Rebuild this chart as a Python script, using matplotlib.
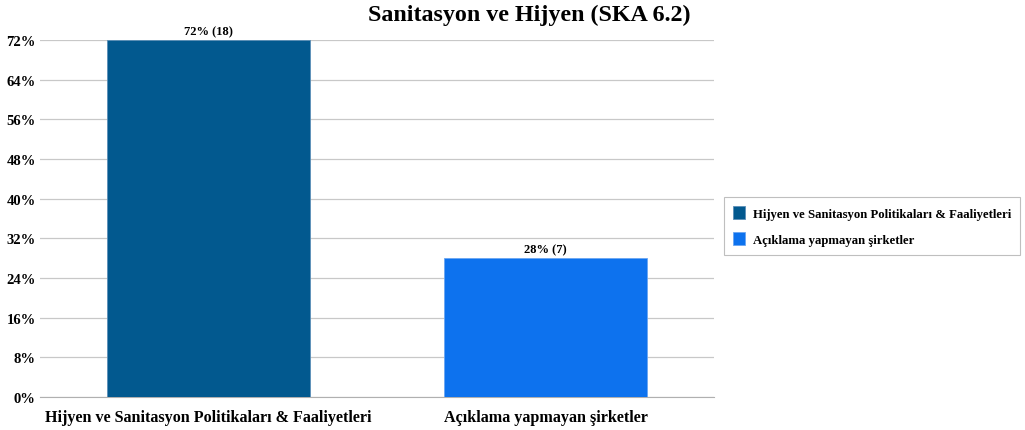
import numpy as np
import matplotlib.pyplot as plt

categories = ["Hijyen ve Sanitasyon Politikaları & Faaliyetleri", "Açıklama yapmayan şirketler"]
percents = [72, 28]
counts = [18, 7]
yticks = [0, 8, 16, 24, 32, 40, 48, 56, 64, 72]
colors = ["#02598F", "#0D72EE"]

plt.rcParams['font.family'] = ['Liberation Serif', 'DejaVu Serif']
plt.rcParams['font.weight'] = 'bold'

fig = plt.figure(figsize=(10.25, 4.31), dpi=100)
ax = fig.add_axes([40 / 1025, 1 - 398 / 431, 674 / 1025, 357 / 431])

x = np.arange(len(categories))
bars = ax.bar(x, percents, width=0.6, color=colors, edgecolor=["#5b8fb8", "#6aa6f2"], linewidth=0.6,
              label=categories, zorder=3)
for xi, p, c in zip(x, percents, counts):
    ax.text(xi, p + 0.6, f"{p}% ({c})", ha="center", va="bottom", fontsize=9, fontweight="bold")

ax.set_xlim(-0.5, 1.5)
ax.set_ylim(0, 72)
ax.set_yticks(yticks)
ax.set_yticklabels([f"{t}%" for t in yticks], fontsize=10.5, fontweight="bold")
ax.set_xticks(x)
ax.set_xticklabels(categories, fontsize=11.6, fontweight="bold")
ax.tick_params(axis="both", length=0)
ax.tick_params(axis="x", pad=9)
ax.tick_params(axis="y", pad=3)
ax.grid(axis="y", color="#c8c8c8", linewidth=0.9, zorder=0)
for s in ["top", "right", "left"]:
    ax.spines[s].set_visible(False)
ax.spines["bottom"].set_color("#b0b0b0")

fig.text(529 / 1025, 1 - 15 / 431, "Sanitasyon ve Hijyen (SKA 6.2)", ha="center", va="center",
         fontsize=17.3, fontweight="bold")

leg = fig.legend(handles=bars, labels=categories, loc="center", bbox_to_anchor=(872 / 1025, 1 - 227 / 431),
                 fontsize=9.2, frameon=True, fancybox=False, edgecolor="#b0b0b0",
                 handlelength=1.0, handleheight=1.2, borderpad=0.7, labelspacing=0.9, handletextpad=0.6)
leg.get_frame().set_linewidth(0.8)

fig.savefig("out.png", dpi=100)
